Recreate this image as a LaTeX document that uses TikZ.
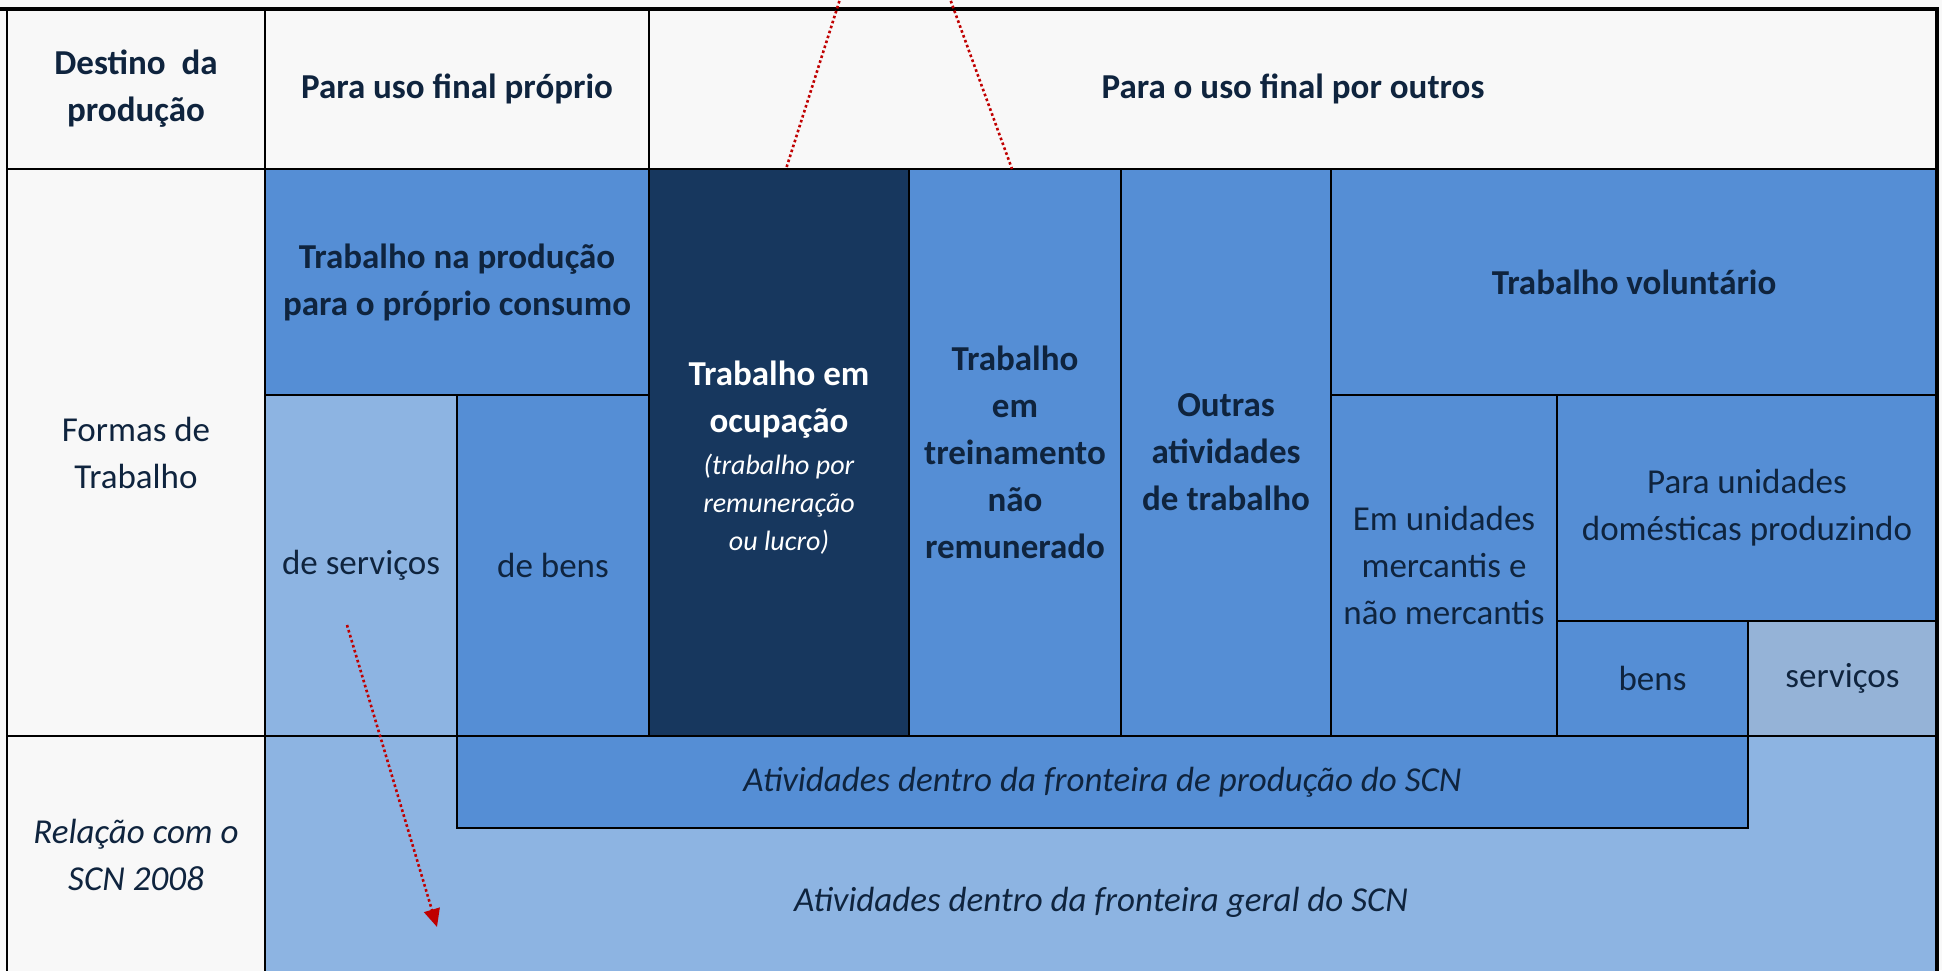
\documentclass[tikz,border=0pt]{standalone}
\usepackage{fontspec}
\setmainfont{Carlito}
\usetikzlibrary{arrows.meta}
\definecolor{bgc}{HTML}{F8F8F8}
\definecolor{midblue}{HTML}{558ED5}
\definecolor{lightblue}{HTML}{8DB4E2}
\definecolor{darkblue}{HTML}{17375E}
\definecolor{greyblue}{HTML}{95B3D7}
\definecolor{txt}{HTML}{0F243E}
\definecolor{redc}{HTML}{C00000}
\begin{document}
\begin{tikzpicture}[x=1pt,y=-1pt,
  cell/.style={draw=black, line width=2.6pt, rectangle, inner sep=0pt, outer sep=0pt,
    align=center, text=txt, font=\fontsize{35}{47}\selectfont},
  bcell/.style={cell, font=\fontsize{35}{47}\selectfont\bfseries},
  icell/.style={cell, font=\fontsize{35}{47}\selectfont\itshape},
  redline/.style={draw=redc, line width=2.6pt, dash pattern=on 2.6pt off 2.6pt},
]
\useasboundingbox (0,0) rectangle (1942,970);
\fill[bgc] (0,0) rectangle (1942,970);

% header row
\node[bcell, fill=bgc, minimum width=258pt, minimum height=160pt] (destino) at (136,89) {Destino\ \ da\\produção};
\node[bcell, fill=bgc, minimum width=384pt, minimum height=160pt] (proprio) at (457,89) {Para uso final próprio};
\node[bcell, fill=bgc, minimum width=1288pt, minimum height=160pt] (outros) at (1293,89) {Para o uso final por outros};

% left labels
\node[cell, fill=bgc, minimum width=258pt, minimum height=567pt] (formas) at (136,452.5) {Formas de\\Trabalho};
\node[icell, fill=bgc, minimum width=258pt, minimum height=238pt] (relacao) at (136,855) {Relação com o\\SCN 2008};

% formas de trabalho
\node[bcell, fill=midblue, minimum width=384pt, minimum height=226pt] (trabprop) at (457,282) {Trabalho na produção\\para o próprio consumo};
\node[cell, fill=lightblue, minimum width=192pt, minimum height=341pt] (servA) at (361,565.5) {de serviços};
\node[cell, fill=midblue, minimum width=192pt, minimum height=341pt] (bensA) at (553,565.5) {de bens};
\node[cell, fill=darkblue, minimum width=260pt, minimum height=567pt] (ocupacao) at (779,452.5) {};
\node[text=white, font=\fontsize{35}{47}\selectfont\bfseries, align=center, inner sep=0pt] (ocuptit) at (779,400) {Trabalho em\\ocupação};
\node[text=white, font=\fontsize{28}{38}\selectfont\itshape, align=center, inner sep=0pt] (ocupsub) at (779,504) {(trabalho por\\remuneração\\ou lucro)};
\node[bcell, fill=midblue, minimum width=212pt, minimum height=567pt] (treino) at (1015,452.5) {Trabalho\\em\\treinamento\\não\\remunerado};
\node[bcell, fill=midblue, minimum width=210pt, minimum height=567pt] (outras) at (1226,452.5) {Outras\\atividades\\de trabalho};
\node[bcell, fill=midblue, minimum width=606pt, minimum height=226pt] (volunt) at (1634,282) {Trabalho voluntário};
\node[cell, fill=midblue, minimum width=226pt, minimum height=341pt] (emunid) at (1444,565.5) {Em unidades\\mercantis e\\não mercantis};
\node[cell, fill=midblue, minimum width=380pt, minimum height=226pt] (paraunid) at (1747,508) {Para unidades\\domésticas produzindo};
\node[cell, fill=midblue, minimum width=191pt, minimum height=115pt] (bensB) at (1652.5,678.5) {bens};
\node[cell, fill=greyblue, minimum width=189pt, minimum height=115pt] (servB) at (1842.5,678.5) {serviços};

% relacao com o SCN
\node[cell, fill=lightblue, minimum width=1672pt, minimum height=238pt] (geral) at (1101,855) {};
\node[icell, fill=midblue, minimum width=1291pt, minimum height=92pt] (producao) at (1102.5,782) {Atividades dentro da fronteira de produção do SCN};
\node[text=txt, font=\fontsize{35}{47}\selectfont\itshape, inner sep=0pt] (geraltxt) at (1101,902) {Atividades dentro da fronteira geral do SCN};

% outer frame
\draw[line width=4pt] (0,9) -- (1939,9);
\draw[line width=4pt] (1937,9) -- (1937,972);

% red dotted connectors
\coordinate (r1) at (841,-4);
\coordinate (r2) at (949,-4);
\draw[redline] (r1) -- ([xshift=7pt]ocupacao.north);
\draw[redline] (r2) -- ([xshift=-3pt]treino.north);
\coordinate (a1) at (347,625);
\coordinate (a2) at (437,927);
\draw[redline, -{Triangle[length=18pt,width=16pt]}] (a1) -- (a2);
\end{tikzpicture}
\end{document}
